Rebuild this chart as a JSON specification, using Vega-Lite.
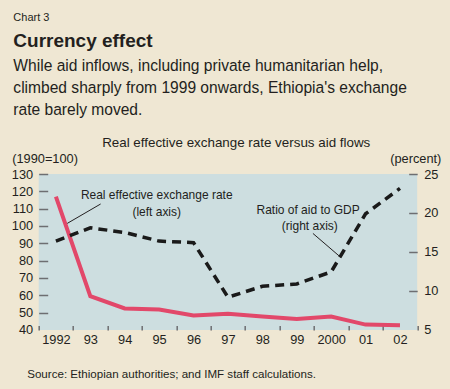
{
  "$schema": "https://vega.github.io/schema/vega-lite/v6.json",
  "background": "#efe7d3",
  "autosize": {"type": "pad"},
  "padding": {"left": 10.7, "top": 12, "right": 14, "bottom": 10},
  "title": {
    "text": "Chart 3",
    "anchor": "start",
    "frame": "bounds",
    "font": "Liberation Sans",
    "fontSize": 11,
    "fontWeight": "normal",
    "color": "#231f20",
    "offset": 8.7,
    "dx": 2
  },
  "datasets": {
    "series": [
      {"year": 1992, "reer": 117.0, "aid": 16.4},
      {"year": 1993, "reer": 59.5, "aid": 18.1},
      {"year": 1994, "reer": 52.4, "aid": 17.5},
      {"year": 1995, "reer": 51.8, "aid": 16.4},
      {"year": 1996, "reer": 48.4, "aid": 16.2},
      {"year": 1997, "reer": 49.4, "aid": 9.2},
      {"year": 1998, "reer": 47.8, "aid": 10.6},
      {"year": 1999, "reer": 46.3, "aid": 10.9},
      {"year": 2000, "reer": 47.8, "aid": 12.45},
      {"year": 2001, "reer": 43.1, "aid": 19.9},
      {"year": 2002, "reer": 42.8, "aid": 23.15}
    ],
    "reerNote": [
      {"x": 1994.93, "y": 115.6, "t": "Real effective exchange rate"},
      {"x": 1994.93, "y": 105.9, "t": "(left axis)"}
    ],
    "reerLeader": [
      {"x": 1993.3, "y": 112.7, "x2": 1992.33, "y2": 101.5}
    ],
    "aidNote": [
      {"x": 1999.33, "y": 19.87, "t": "Ratio of aid to GDP"},
      {"x": 1999.38, "y": 17.82, "t": "(right axis)"}
    ],
    "aidLeader": [
      {"x": 1999.47, "y": 17.38, "x2": 2000.28, "y2": 14.31}
    ]
  },
  "vconcat": [
    {
      "title": {
        "text": "Currency effect",
        "subtitle": [
          "While aid inflows, including private humanitarian help,",
          "climbed sharply from 1999 onwards, Ethiopia's exchange",
          "rate barely moved."
        ],
        "anchor": "start",
        "frame": "bounds",
        "font": "Liberation Sans",
        "fontSize": 19,
        "fontWeight": "bold",
        "color": "#231f20",
        "subtitleFont": "Liberation Sans",
        "subtitleFontSize": 15.6,
        "subtitleColor": "#231f20",
        "subtitleLineHeight": 22.3,
        "subtitlePadding": 8,
        "offset": 16.5,
        "dx": 2
      },
      "width": 378.5,
      "height": 156,
      "resolve": {"scale": {"y": "independent"}, "axis": {"x": "independent"}},
      "layer": [
        {
          "data": {"name": "series"},
          "mark": {"type": "line", "color": "#e2486a", "strokeWidth": 4},
          "encoding": {
            "x": {
              "field": "year",
              "type": "quantitative",
              "scale": {"domain": [1991.5, 2002.5], "nice": false, "zero": false},
              "axis": {
                "values": [1991.5, 1992.5, 1993.5, 1994.5, 1995.5, 1996.5, 1997.5, 1998.5, 1999.5, 2000.5, 2001.5, 2002.5],
                "labelExpr": "datum.value > 2002 ? '' : ((datum.value + 0.5) == 1992 || (datum.value + 0.5) == 2000) ? '' + (datum.value + 0.5) : substring('' + (datum.value + 0.5), 2)",
                "labelOffset": 17.2,
                "tickSize": -4.5,
                "labelPadding": 8,
                "labelAlign": "center",
                "labelBaseline": "top",
                "labelOverlap": false,
                "labelBound": false,
                "labelFlush": false,
                "title": "Source: Ethiopian authorities; and IMF staff calculations.",
                "titleX": -12,
                "titleY": 47.4,
                "titleAnchor": "start",
                "titleAlign": "left",
                "titleBaseline": "alphabetic",
                "titleFontSize": 11.6
              }
            },
            "y": {
              "field": "reer",
              "type": "quantitative",
              "scale": {"domain": [40, 130], "nice": false, "zero": false},
              "axis": {
                "values": [40, 50, 60, 70, 80, 90, 100, 110, 120, 130],
                "tickSize": -9,
                "labelPadding": 15,
                "tickOpacity": {"condition": {"test": "datum.value === 40", "value": 0}, "value": 1},
                "title": "(1990=100)",
                "titleAngle": 0,
                "titleX": -27,
                "titleY": -11.6,
                "titleAlign": "left",
                "titleBaseline": "alphabetic"
              }
            }
          }
        },
        {
          "data": {"name": "reerLeader"},
          "mark": {"type": "rule", "color": "#231f20", "strokeWidth": 1},
          "encoding": {
            "x": {"field": "x", "type": "quantitative", "scale": {"domain": [1991.5, 2002.5], "nice": false, "zero": false}, "axis": null},
            "x2": {"field": "x2"},
            "y": {"field": "y", "type": "quantitative", "scale": {"domain": [40, 130], "nice": false, "zero": false}, "axis": null},
            "y2": {"field": "y2"}
          }
        },
        {
          "data": {"name": "reerNote"},
          "mark": {"type": "text", "font": "Liberation Sans", "fontSize": 12, "color": "#231f20", "align": "center", "baseline": "alphabetic"},
          "encoding": {
            "x": {"field": "x", "type": "quantitative", "scale": {"domain": [1991.5, 2002.5], "nice": false, "zero": false}, "axis": null},
            "y": {"field": "y", "type": "quantitative", "scale": {"domain": [40, 130], "nice": false, "zero": false}, "axis": null},
            "text": {"field": "t"}
          }
        },
        {
          "data": {"name": "series"},
          "mark": {"type": "line", "color": "#1a1a1a", "strokeWidth": 3.5, "strokeDash": [9, 6]},
          "encoding": {
            "x": {
              "field": "year",
              "type": "quantitative",
              "scale": {"domain": [1991.5, 2002.5], "nice": false, "zero": false},
              "axis": {
                "orient": "top",
                "labels": false,
                "ticks": false,
                "domain": false,
                "grid": false,
                "title": "Real effective exchange rate versus aid flows",
                "titleX": 197,
                "titleY": -27.6,
                "titleAlign": "center",
                "titleBaseline": "alphabetic",
                "titleFontSize": 13.4
              }
            },
            "y": {
              "field": "aid",
              "type": "quantitative",
              "scale": {"domain": [5, 25], "nice": false, "zero": false},
              "axis": {
                "orient": "right",
                "values": [5, 10, 15, 20, 25],
                "tickSize": -8.5,
                "labelPadding": 15,
                "tickOpacity": {"condition": {"test": "datum.value === 5", "value": 0}, "value": 1},
                "title": "(percent)",
                "titleAngle": 0,
                "titleX": -27.5,
                "titleY": -11.6,
                "titleAlign": "left",
                "titleBaseline": "alphabetic"
              }
            }
          }
        },
        {
          "data": {"name": "aidLeader"},
          "mark": {"type": "rule", "color": "#231f20", "strokeWidth": 1},
          "encoding": {
            "x": {"field": "x", "type": "quantitative", "scale": {"domain": [1991.5, 2002.5], "nice": false, "zero": false}, "axis": null},
            "x2": {"field": "x2"},
            "y": {"field": "y", "type": "quantitative", "scale": {"domain": [5, 25], "nice": false, "zero": false}, "axis": null},
            "y2": {"field": "y2"}
          }
        },
        {
          "data": {"name": "aidNote"},
          "mark": {"type": "text", "font": "Liberation Sans", "fontSize": 12, "color": "#231f20", "align": "center", "baseline": "alphabetic"},
          "encoding": {
            "x": {"field": "x", "type": "quantitative", "scale": {"domain": [1991.5, 2002.5], "nice": false, "zero": false}, "axis": null},
            "y": {"field": "y", "type": "quantitative", "scale": {"domain": [5, 25], "nice": false, "zero": false}, "axis": null},
            "text": {"field": "t"}
          }
        }
      ]
    }
  ],
  "config": {
    "view": {"stroke": null, "fill": "#cddee0"},
    "concat": {"spacing": 0},
    "axis": {
      "labelFont": "Liberation Sans",
      "labelFontSize": 12.8,
      "labelColor": "#231f20",
      "tickColor": "#6d6e71",
      "tickWidth": 1.5,
      "titleFont": "Liberation Sans",
      "titleFontWeight": "normal",
      "titleColor": "#231f20",
      "titleFontSize": 12.8,
      "grid": false,
      "domain": false
    }
  }
}
